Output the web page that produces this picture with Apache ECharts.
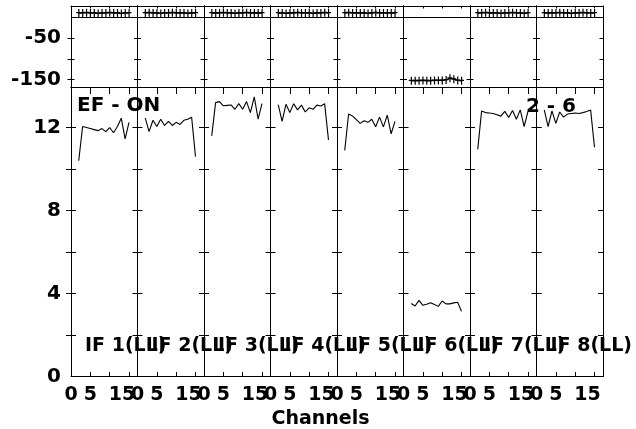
<!DOCTYPE html>
<html>
<head>
<meta charset="utf-8">
<script src="https://cdn.jsdelivr.net/npm/echarts@6/dist/echarts.min.js"></script>
<style>html,body{margin:0;padding:0;background:#fff}#c{width:636px;height:429px}</style>
</head>
<body>
<div id="c"></div>
<script>
// ---- data ----
var channels = [2, 3, 4, 5, 6, 7, 8, 9, 10, 11, 12, 13, 14, 15];
var ifLabels = ['IF 1(LL)', 'IF 2(LL)', 'IF 3(LL)', 'IF 4(LL)', 'IF 5(LL)', 'IF 6(LL)', 'IF 7(LL)', 'IF 8(LL)'];
var amp1 = [10.4, 12.05, 12.0, 11.95, 11.9, 11.85, 11.95, 11.8, 12.0, 11.75, 12.05, 12.45, 11.45, 12.25];
var amp2 = [12.45, 11.8, 12.35, 12.05, 12.4, 12.1, 12.3, 12.1, 12.25, 12.15, 12.35, 12.4, 12.5, 10.6];
var amp3 = [11.6, 13.2, 13.25, 13.05, 13.07, 13.09, 12.88, 13.15, 12.88, 13.25, 12.72, 13.48, 12.4, 13.15];
var amp4 = [13.1, 12.3, 13.12, 12.72, 13.15, 12.85, 13.08, 12.75, 12.95, 12.88, 13.08, 13.04, 13.15, 11.4];
var amp5 = [10.9, 12.65, 12.56, 12.38, 12.2, 12.33, 12.25, 12.4, 12.04, 12.5, 12.03, 12.6, 11.7, 12.3];
var amp6 = [3.52, 3.4, 3.67, 3.43, 3.48, 3.56, 3.47, 3.38, 3.64, 3.5, 3.5, 3.55, 3.58, 3.14];
var amp7 = [10.95, 12.8, 12.72, 12.7, 12.68, 12.62, 12.55, 12.78, 12.48, 12.82, 12.4, 12.85, 12.05, 12.78];
var amp8 = [12.85, 12.05, 12.8, 12.2, 12.75, 12.5, 12.65, 12.68, 12.7, 12.68, 12.72, 12.77, 12.85, 11.05];
var ph1 = [10, 10, 11, 10, 10, 9, 10, 10, 11, 10, 10, 9, 10, 10];
var ph2 = [10, 11, 10, 10, 9, 10, 10, 11, 10, 10, 10, 9, 10, 10];
var ph3 = [10, 10, 10, 11, 10, 10, 9, 10, 10, 11, 10, 10, 10, 10];
var ph4 = [10, 10, 9, 10, 10, 11, 10, 10, 10, 9, 10, 10, 11, 10];
var ph5 = [10, 11, 10, 10, 10, 10, 9, 10, 11, 10, 10, 10, 10, 10];
var ph6 = [-153, -153, -153, -152, -153, -153, -152, -152, -152, -151, -147, -149, -152, -153];
var ph7 = [10, 10, 11, 10, 10, 10, 9, 10, 10, 11, 10, 10, 9, 10];
var ph8 = [10, 10, 10, 10, 11, 10, 10, 9, 10, 10, 11, 10, 10, 10];
var ampTicks = [2, 4, 6, 8, 10, 12];
var ampTickLabels = [0, 4, 8, 12];
var phTicks = [-50, -100, -150];
var phTickLabels = [-50, -150];
var chTicks = [5, 10, 15];
var chTickLabels = [0, 5, 15];
var titleLeft = 'EF - ON';
var titleRight = '2 - 6';
var xName = 'Channels';

var amps = [amp1, amp2, amp3, amp4, amp5, amp6, amp7, amp8];
var phs = [ph1, ph2, ph3, ph4, ph5, ph6, ph7, ph8];

// ---- layout ----
var FONT = '"DejaVu Sans"';
var L0 = 71, W = 66.5;
var PH_TOP = 6, PH_H = 81.5;
var AM_TOP = 87.5, AM_H = 289;

var grids = [], xAxes = [], yAxes = [], series = [];
function pairs(vals) { return channels.map(function (c, k) { return [c, vals[k]]; }); }
var plus = 'path://M2,0h1.2v3h1.8v1.2h-1.8v3.8h-1.2v-3.8h-2v-1.2h2z';

for (var i = 0; i < 8; i++) {
  var left = L0 + i * W;
  grids.push({ left: left, top: PH_TOP, width: W, height: PH_H });
  grids.push({ left: left, top: AM_TOP, width: W, height: AM_H });
  for (var g = 0; g < 2; g++) {
    var gi = 2 * i + g;
    var isAmp = g === 1;
    xAxes.push({
      type: 'value', gridIndex: gi, position: 'bottom', min: 0, max: 17.2,
      axisLine: { show: true, onZero: false, lineStyle: { color: '#000', width: 1 } },
      axisTick: { show: isAmp, inside: true, length: 4.5, customValues: chTicks, lineStyle: { color: '#000' } },
      axisLabel: {
        show: isAmp, customValues: chTickLabels, margin: 9, color: '#000',
        fontFamily: FONT, fontWeight: 'bold', fontSize: 19,
        formatter: function (v) { return v === 15 ? '{s|15}' : String(v); },
        rich: { s: { fontFamily: FONT, fontWeight: 'bold', fontSize: 19, color: '#000', padding: [0, 14, 0, 0] } }
      },
      splitLine: { show: false }
    });
    xAxes.push({
      type: 'value', gridIndex: gi, position: 'top', min: 0, max: 17.2,
      axisLine: { show: true, onZero: false, lineStyle: { color: '#000', width: 1 } },
      axisTick: { show: true, inside: true, length: isAmp ? 6.5 : 2.5, customValues: chTicks, lineStyle: { color: '#000' } },
      axisLabel: { show: false },
      splitLine: { show: false }
    });
    var ymin = isAmp ? 0 : -169, ymax = isAmp ? 13.93 : 27;
    var tickVals = isAmp ? ampTicks : phTicks;
    var tlen = isAmp ? 5 : 3.5;
    yAxes.push({
      type: 'value', gridIndex: gi, position: 'left', min: ymin, max: ymax,
      axisLine: { show: true, onZero: false, lineStyle: { color: '#000', width: 1 } },
      axisTick: { show: true, inside: true, length: tlen, customValues: tickVals, lineStyle: { color: '#000' } },
      axisLabel: {
        show: i === 0, customValues: isAmp ? ampTickLabels : phTickLabels, margin: 10, color: '#000',
        fontFamily: FONT, fontWeight: 'bold', fontSize: 20
      },
      splitLine: { show: false }
    });
    yAxes.push({
      type: 'value', gridIndex: gi, position: 'right', min: ymin, max: ymax,
      axisLine: { show: true, onZero: false, lineStyle: { color: '#000', width: 1 } },
      axisTick: { show: true, inside: true, length: tlen, customValues: tickVals, lineStyle: { color: '#000' } },
      axisLabel: { show: false },
      splitLine: { show: false }
    });
    if (i === 0 || i === 7) {
      yAxes.push({
        type: 'value', gridIndex: gi, position: i === 0 ? 'left' : 'right', min: ymin, max: ymax,
        axisLine: { show: false },
        axisTick: { show: true, inside: false, length: tlen, customValues: tickVals, lineStyle: { color: '#000' } },
        axisLabel: { show: false },
        splitLine: { show: false }
      });
    }
  }
}

var xIdx = function (gi) { return 2 * gi; };
var yIdx = function (gi) {
  var n = 0;
  for (var k = 0; k < gi; k++) {
    var panel = Math.floor(k / 2);
    n += (panel === 0 || panel === 7) ? 3 : 2;
  }
  return n;
};

for (var p = 0; p < 8; p++) {
  var gPh = 2 * p, gAm = 2 * p + 1;
  series.push({
    type: 'line', xAxisIndex: xIdx(gPh), yAxisIndex: yIdx(gPh),
    data: pairs(phs[p]), symbol: plus, symbolSize: [5, 8], symbolKeepAspect: false,
    showAllSymbol: true, itemStyle: { color: '#000' },
    lineStyle: { color: '#000', width: 1.2 }, silent: true, animation: false,
    markLine: {
      silent: true, symbol: 'none', label: { show: false },
      lineStyle: { color: '#000', width: 1, type: 'solid' },
      data: [{ yAxis: 0 }], animation: false
    }
  });
  series.push({
    type: 'line', xAxisIndex: xIdx(gAm), yAxisIndex: yIdx(gAm),
    data: pairs(amps[p]), symbol: 'none',
    lineStyle: { color: '#000', width: 1.1 }, silent: true, animation: false
  });
}

var graphics = [
  { type: 'text', x: 77, y: 106, style: { text: titleLeft, font: 'bold 20px ' + FONT, fill: '#000', textAlign: 'left', textVerticalAlign: 'middle' } },
  { type: 'text', x: 576, y: 107, style: { text: titleRight, font: 'bold 20px ' + FONT, fill: '#000', textAlign: 'right', textVerticalAlign: 'middle' } },
  { type: 'text', x: 320.5, y: 419, style: { text: xName, font: 'bold 19px ' + FONT, fill: '#000', textAlign: 'center', textVerticalAlign: 'middle' } }
];
for (var q = 0; q < 8; q++) {
  graphics.push({ type: 'text', x: 85 + q * W, y: 346, style: { text: ifLabels[q], font: 'bold 19px ' + FONT, fill: '#000', textAlign: 'left', textVerticalAlign: 'middle' } });
}

var chart = echarts.init(document.getElementById('c'), null, { renderer: 'canvas' });
chart.setOption({
  backgroundColor: '#fff',
  animation: false,
  grid: grids,
  xAxis: xAxes,
  yAxis: yAxes,
  series: series,
  graphic: graphics
});
</script>
</body>
</html>
